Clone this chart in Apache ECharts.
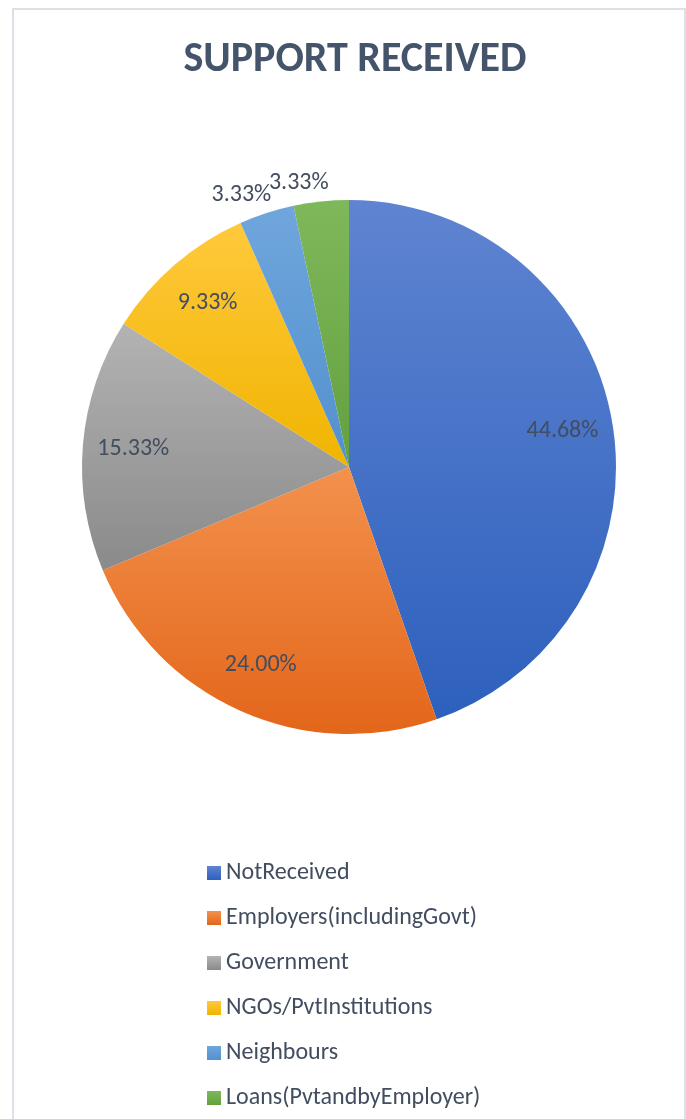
<!DOCTYPE html>
<html>
<head>
<meta charset="utf-8">
<script src="https://cdn.jsdelivr.net/npm/echarts@6/dist/echarts.min.js"></script>
<style>
  html,body{margin:0;padding:0;background:#fff;}
  #chart{width:686px;height:1119px;}
</style>
</head>
<body>
<div id="chart"></div>
<script>
// support sources and their share (%)
var categories = ['NotReceived', 'Employers(includingGovt)', 'Government', 'NGOs/PvtInstitutions', 'Neighbours', 'Loans(PvtandbyEmployer)'];
var shares = [44.68, 24.00, 15.33, 9.33, 3.33, 3.33];

// top -> bottom gradient of each slice
var topColors = ['#5F84D1', '#F3914D', '#B3B3B3', '#FFC93C', '#6FA6DC', '#7EB85B'];
var bottomColors = ['#2D60BD', '#E3661A', '#8A8A8A', '#F0B400', '#5390CF', '#64A03F'];

var fontFam = 'Carlito, Lato, "Noto Sans", sans-serif';
var textColor = '#424D60';

var pieData = categories.map(function (name, i) {
  return {
    name: name,
    value: shares[i],
    itemStyle: {
      color: {
        type: 'linear', x: 0, y: 0, x2: 0, y2: 1,
        colorStops: [{offset: 0, color: topColors[i]}, {offset: 1, color: bottomColors[i]}]
      }
    }
  };
});

// label-only ring so inside labels sit at ~0.8 of the radius
var labelData = categories.map(function (name, i) {
  var small = shares[i] < 5;
  return {
    name: name,
    value: shares[i],
    label: small ? {position: 'outside'} : {position: 'inside'},
    labelLine: {show: false, length: 14, length2: 0}
  };
});

var myChart = echarts.init(document.getElementById('chart'));
var option = {
  animation: false,
  title: {
    text: 'SUPPORT RECEIVED',
    left: 350,
    top: 34,
    textAlign: 'center',
    textStyle: {fontFamily: fontFam, fontSize: 42, fontWeight: 'bold', color: '#44546A'}
  },
  graphic: [{
    type: 'rect',
    silent: true,
    shape: {x: 13, y: 9, width: 672, height: 1200},
    style: {fill: 'none', stroke: '#DDE1E7', lineWidth: 2}
  }],
  legend: {
    orient: 'vertical',
    left: 202,
    top: 854,
    icon: 'rect',
    itemWidth: 14,
    itemHeight: 14,
    itemGap: 17,
    data: categories,
    textStyle: {fontFamily: fontFam, fontSize: 24, color: textColor, lineHeight: 28}
  },
  series: [
    {
      name: 'Support',
      type: 'pie',
      center: [349, 467],
      radius: [0, 267],
      startAngle: 90,
      clockwise: true,
      silent: true,
      label: {show: false},
      labelLine: {show: false},
      data: pieData
    },
    {
      name: 'Labels',
      type: 'pie',
      center: [349, 467],
      radius: [160, 267],
      startAngle: 90,
      clockwise: true,
      silent: true,
      avoidLabelOverlap: false,
      itemStyle: {color: 'rgba(0,0,0,0)'},
      label: {
        show: true,
        fontFamily: fontFam,
        fontSize: 24,
        color: textColor,
        formatter: function (p) { return p.value.toFixed(2) + '%'; }
      },
      labelLayout: function (params) {
        // nudge the two small outside labels like the original
        if (shares[params.dataIndex] < 5) {
          return {dx: 14, dy: -5};
        }
        return {};
      },
      data: labelData
    }
  ]
};
myChart.setOption(option);
</script>
</body>
</html>
